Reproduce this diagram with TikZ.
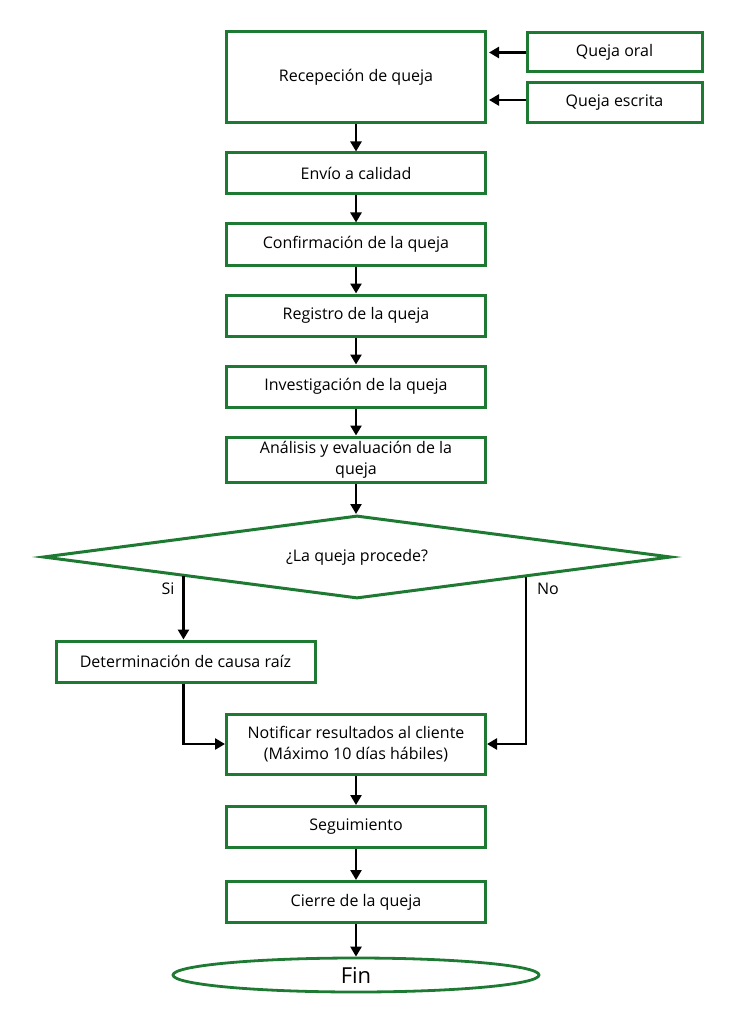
\documentclass[tikz,border=0pt]{standalone}
\usepackage{fontspec}
\setmainfont{Open Sans}
\usetikzlibrary{shapes.geometric,calc,arrows.meta}
\definecolor{boxgreen}{RGB}{30,122,50}
\tikzset{
  stepbox/.style={draw=boxgreen, line width=3pt, rectangle, inner sep=2pt,
    align=center, font=\fontsize{16}{21}\selectfont, text=black},
  mainbox/.style={stepbox, minimum width=259pt, minimum height=41pt},
  flow/.style={draw=black, line width=2.6pt, -{Triangle[length=10pt,width=11pt]}},
  lbl/.style={font=\fontsize{16}{18}\selectfont, inner sep=0pt},
}
\begin{document}
\begin{tikzpicture}[x=1pt,y=-1pt]
\useasboundingbox (0,0) rectangle (747,1024);
\node[mainbox, minimum height=91pt] (rec) at (356,77.5) {Recepeción de queja};
\node[stepbox, minimum width=175pt, minimum height=39pt] (oral) at (614.5,52.5) {Queja oral};
\node[stepbox, minimum width=175pt, minimum height=40pt] (escrita) at (614.5,103) {Queja escrita};
\node[mainbox] (env) at (356,173.5) {Envío a calidad};
\node[mainbox] (conf) at (356,244.5) {Confirmación de la queja};
\node[mainbox] (reg) at (356,315.5) {Registro de la queja};
\node[mainbox] (inv) at (356,386.5) {Investigación de la queja};
\node[mainbox, minimum height=45pt] (anal) at (356,459.5) {Análisis y evaluación de la\\queja};
\node[draw=boxgreen, line width=3pt, diamond, aspect=7.6, minimum width=628pt, minimum height=83pt, inner sep=0pt,
  font=\fontsize{16}{18}\selectfont] (dec) at (357,557) {¿La queja procede?};
\node[mainbox] (det) at (185.5,661.5) {Determinación de causa raíz};
\node[mainbox, minimum height=60pt] (notif) at (356,744) {Notificar resultados al cliente\\(Máximo 10 días hábiles)};
\node[mainbox] (seg) at (356,827) {Seguimiento};
\node[mainbox] (cie) at (356,902) {Cierre de la queja};
\node[draw=boxgreen, line width=2.8pt, ellipse, minimum width=366pt, minimum height=34pt, inner sep=0pt,
  font=\fontsize{22}{24}\selectfont] (fin) at (356,975) {Fin};

\coordinate (oralend) at (489,52.5);
\coordinate (escend) at (489,100);
\draw[flow] (oral.west |- oralend) -- (oralend);
\draw[flow] (escrita.west |- escend) -- (escend);
\draw[flow] (rec) -- (env);
\draw[flow] (env) -- (conf);
\draw[flow] (conf) -- (reg);
\draw[flow] (reg) -- (inv);
\draw[flow] (inv) -- (anal);
\draw[flow] (anal.south) -- (anal.south |- dec.north);
\coordinate (siS) at ($(dec.west)!0.45!(dec.south)$);
\coordinate (noS) at ($(dec.south)!0.535!(dec.east)$);
\draw[flow] (siS) -- (siS |- det.north);
\draw[flow] (noS) |- (notif.east);
\draw[flow] (det.south -| siS) |- (notif.west);
\draw[flow] (notif) -- (seg);
\draw[flow] (seg) -- (cie);
\draw[flow] (cie) -- (fin);
\node[lbl] (si) at (168,589) {Si};
\node[lbl] (no) at (548,589) {No};
\end{tikzpicture}
\end{document}
